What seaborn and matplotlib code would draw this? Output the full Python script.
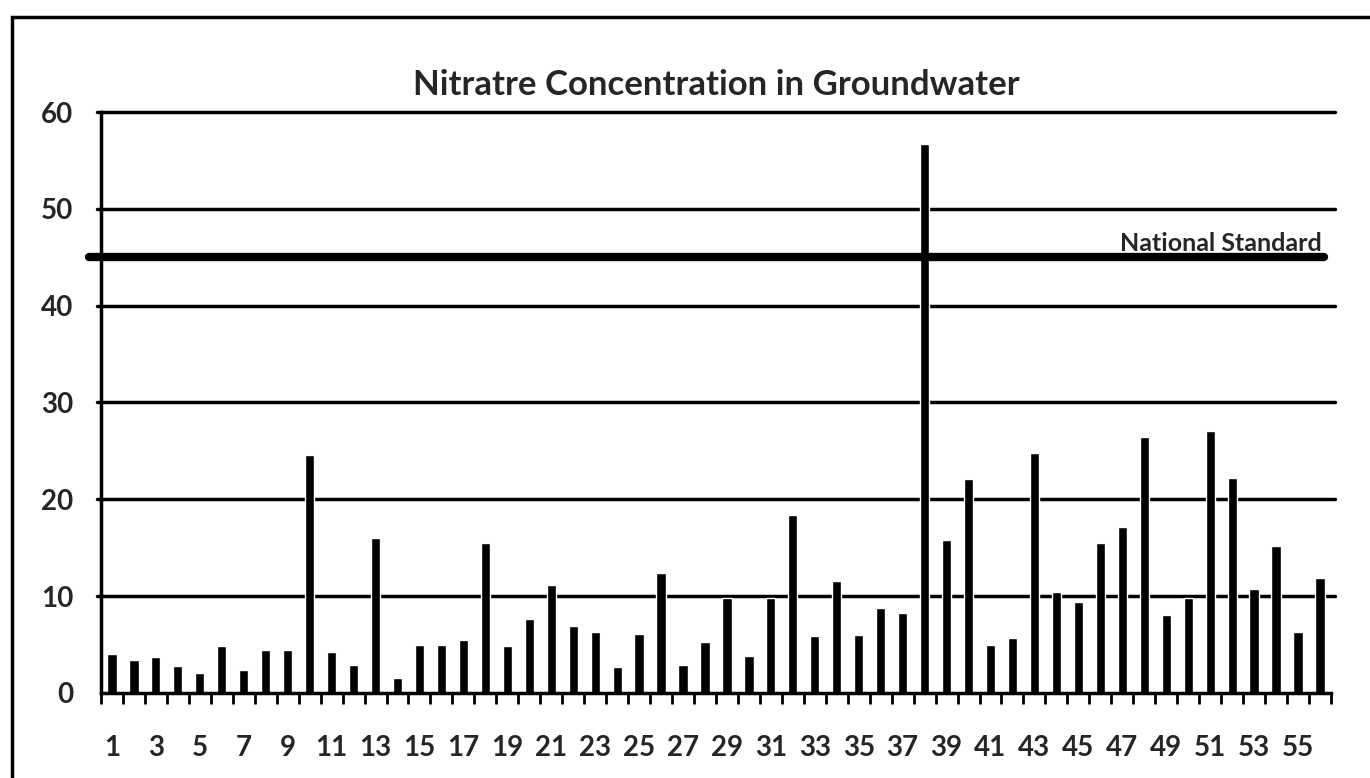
import matplotlib
matplotlib.use("Agg")
import matplotlib.pyplot as plt
import seaborn as sns
import pandas as pd
import numpy as np
from matplotlib.patches import Rectangle

sites = [str(i) for i in range(1, 57)]
nitrate = [4.0, 3.4, 3.7, 2.8, 2.1, 4.9, 2.4, 4.4, 4.4, 24.6,
           4.2, 2.9, 16.0, 1.5, 5.0, 5.0, 5.5, 15.5, 4.9, 7.6,
           11.2, 6.9, 6.3, 2.7, 6.1, 12.4, 2.9, 5.3, 9.8, 3.8,
           9.8, 18.4, 5.9, 11.6, 6.0, 8.8, 8.3, 56.7, 15.8, 22.1,
           5.0, 5.7, 24.8, 10.4, 9.4, 15.5, 17.1, 26.4, 8.1, 9.8,
           27.1, 22.2, 10.7, 15.2, 6.3, 11.9]
standard = 45
y_ticks = [0, 10, 20, 30, 40, 50, 60]
title = "Nitratre Concentration in Groundwater"
std_label = "National Standard"

df = pd.DataFrame({"site": sites, "nitrate": nitrate})

sns.set_style("white")
plt.rcParams['font.family'] = ['Lato', 'DejaVu Sans']

fig = plt.figure(figsize=(13.7, 7.78), dpi=100)
ax = fig.add_axes([0.0737, 0.1093, 0.8978, 0.7467])

sns.barplot(data=df, x="site", y="nitrate", color="black", width=0.42,
            ax=ax, order=sites, saturation=1)

ax.set_ylim(0, 60)
ax.set_xlim(-0.5, len(sites) - 0.5)
ax.set_yticks(y_ticks)
ax.set_yticklabels([str(v) for v in y_ticks], fontsize=20, fontweight="bold")
for v in y_ticks[1:]:
    ax.axhline(v, color="black", lw=2.5, zorder=0, xmin=-0.003, xmax=1.003, clip_on=False)

ax.set_xticks(range(0, len(sites), 2))
ax.set_xticklabels(sites[::2], fontsize=20, fontweight="bold")
ax.set_xticks(np.arange(-0.5, len(sites), 1.0), minor=True)
ax.tick_params(axis="x", which="major", length=0, pad=30, bottom=True)
ax.tick_params(axis="x", which="minor", length=8, width=2, direction="out",
               color="black", bottom=True)
ax.tick_params(axis="y", which="major", length=0, pad=20)

for s in ["top", "right"]:
    ax.spines[s].set_visible(False)
ax.spines["left"].set_linewidth(2.5)
ax.spines["bottom"].set_linewidth(2.5)
ax.spines["left"].set_color("black")
ax.spines["bottom"].set_color("black")
ax.set_xlabel("")
ax.set_ylabel("")

# national standard line
ax.axhline(standard, color="black", lw=6, xmin=-0.01, xmax=0.994, clip_on=False, zorder=3)
ax.text(len(sites) - 0.9, standard + 0.25, std_label, ha="right", va="bottom",
        fontsize=18, fontweight="bold")

ax.set_title(title, fontsize=25, fontweight="bold", pad=12)

# outer frame
fig.patches.append(Rectangle((12 / 1370, -0.01), 1.2, 1 - 17 / 778 + 0.01,
                             transform=fig.transFigure, fill=False,
                             edgecolor="black", lw=2.5))

fig.savefig("out.png", dpi=100)
